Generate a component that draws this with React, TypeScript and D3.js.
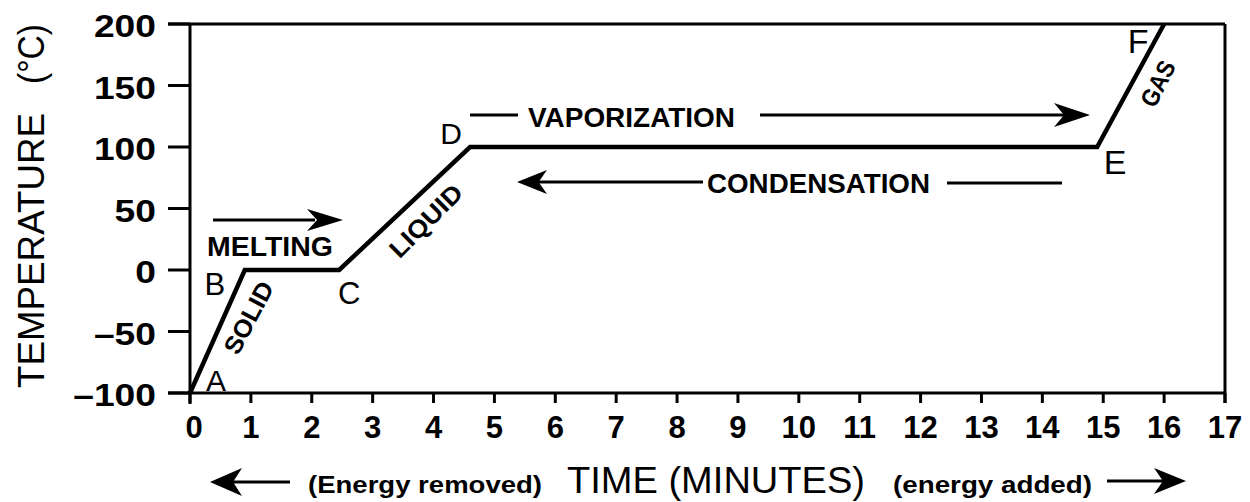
import React from "react";
import * as d3 from "d3";

// ---- data ----
const timeMin = [0, 0.9, 2.45, 4.6, 14.9, 16];
const tempC = [-100, 0, 0, 100, 100, 200];
const pointLabels = ["A", "B", "C", "D", "E", "F"];
const xTicks = [0, 1, 2, 3, 4, 5, 6, 7, 8, 9, 10, 11, 12, 13, 14, 15, 16, 17];
const yTicks = [-100, -50, 0, 50, 100, 150, 200];
const phaseNames = ["SOLID", "LIQUID", "GAS"];
const processNames = ["MELTING", "VAPORIZATION", "CONDENSATION"];
const xTitle = "TIME (MINUTES)";
const yTitle = ["TEMPERATURE", "(°C)"];
const energyNotes = ["(Energy removed)", "(energy added)"];

const W = 1250;
const H = 502;
const FONT = "'Liberation Sans', Arial, Helvetica, sans-serif";

function ArrowHead({ tx, ty, dir, len = 34, half = 11 }: { tx: number; ty: number; dir: 1 | -1; len?: number; half?: number }) {
  const b = tx - dir * len;
  const m = tx - dir * len * 0.72;
  const d = `M${tx},${ty} L${b},${ty - half} L${m},${ty} L${b},${ty + half} Z`;
  return <path d={d} fill="#000" />;
}

export default function App() {
  const x = d3.scaleLinear().domain([0, 17]).range([190, 1225]);
  const y = d3.scaleLinear().domain([-100, 200]).range([393, 24]);
  const pts = timeMin.map((t, i) => [x(t), y(tempC[i])] as [number, number]);
  const line = d3.line<[number, number]>()(pts) as string;

  const x0 = x(0), x17 = x(17), yTop = y(200), yBot = y(-100);

  // label offsets from their points: dx, dy, font size
  const letterOff: [number, number, number][] = [
    [26, -2, 30], [-30, 25, 31], [10, 34, 31], [-19, -3, 30], [18, 27, 34], [-26, 29, 34],
  ];

  const mid = (i: number) => [(pts[i][0] + pts[i + 1][0]) / 2, (pts[i][1] + pts[i + 1][1]) / 2];
  const sMid = mid(0), lMid = mid(2), gMid = mid(4);
  const phaseLabels = [
    { t: phaseNames[0], cx: sMid[0] + 31, cy: sMid[1] - 14, a: -62, len: 78 },
    { t: phaseNames[1], cx: lMid[0] + 21, cy: lMid[1] + 12, a: -45, len: 92 },
    { t: phaseNames[2], cx: gMid[0] + 27, cy: gMid[1] - 2, a: -63, len: 48 },
  ];

  const yZero = y(0), yHundred = y(100);
  const meltY = yZero - 50;
  const vapY = yHundred - 32;
  const condY = yHundred + 35;
  const botY = 482;
  const botBase = 493;

  return (
    <svg width={W} height={H} style={{ position: "absolute", left: 0, top: 0, background: "#fff" }} fontFamily={FONT}>
      <rect x={0} y={0} width={W} height={H} fill="#fff" />
      {/* frame */}
      <g stroke="#000" strokeWidth={3} fill="none">
        <line x1={168} y1={yTop} x2={x17} y2={yTop} />
        <line x1={x17} y1={yTop} x2={x17} y2={yBot + 10} />
        <line x1={168} y1={yBot} x2={x17} y2={yBot} />
        <line x1={x0} y1={yTop} x2={x0} y2={yBot + 11} />
      </g>
      {/* y ticks */}
      {yTicks.map((v) => (
        <g key={"y" + v}>
          <line x1={168} x2={x0} y1={y(v)} y2={y(v)} stroke="#000" strokeWidth={3} />
          <text
            x={0}
            y={0}
            transform={`translate(156,${y(v) + 13}) scale(1.2,1)`}
            textAnchor="end"
            fontSize={31}
            fontWeight="bold"
          >
            {v < 0 ? "\u2013" + Math.abs(v) : String(v)}
          </text>
        </g>
      ))}
      {/* x ticks */}
      {xTicks.map((v) => (
        <g key={"x" + v}>
          <line x1={x(v)} x2={x(v)} y1={yBot} y2={yBot + 10} stroke="#000" strokeWidth={3} />
          <text x={x(v) + (v === 0 ? 4 : 0)} y={438} textAnchor="middle" fontSize={31} fontWeight="bold">
            {v}
          </text>
        </g>
      ))}

      {/* heating curve */}
      <path d={line} fill="none" stroke="#000" strokeWidth={4.5} strokeLinejoin="miter" />

      {/* point letters */}
      {pointLabels.map((l, i) => (
        <text key={l} x={pts[i][0] + letterOff[i][0]} y={pts[i][1] + letterOff[i][1]} textAnchor="middle" fontSize={letterOff[i][2]}>
          {l}
        </text>
      ))}

      {/* phase labels */}
      {phaseLabels.map((p) => (
        <text
          key={p.t}
          transform={`translate(${p.cx},${p.cy}) rotate(${p.a})`}
          textAnchor="middle"
          dominantBaseline="central"
          fontSize={25}
          fontWeight="bold"
          textLength={p.len}
          lengthAdjust="spacingAndGlyphs"
        >
          {p.t}
        </text>
      ))}

      {/* melting */}
      <line x1={x0 + 23} x2={x0 + 125} y1={meltY} y2={meltY} stroke="#000" strokeWidth={3} />
      <ArrowHead tx={x0 + 153} ty={meltY} dir={1} len={36} half={11} />
      <text x={x0 + 17} y={yZero - 14} fontSize={28} fontWeight="bold" textLength={126} lengthAdjust="spacingAndGlyphs">
        {processNames[0]}
      </text>

      {/* vaporization */}
      <line x1={x(4.6)} x2={518} y1={vapY} y2={vapY} stroke="#000" strokeWidth={3} />
      <text x={528} y={127} fontSize={27} fontWeight="bold" textLength={207} lengthAdjust="spacingAndGlyphs">
        {processNames[1]}
      </text>
      <line x1={760} x2={1065} y1={vapY} y2={vapY} stroke="#000" strokeWidth={3} />
      <ArrowHead tx={1090} ty={vapY} dir={1} len={36} half={12} />

      {/* condensation */}
      <ArrowHead tx={517} ty={condY} dir={-1} len={30} half={12} />
      <line x1={535} x2={703} y1={condY} y2={condY} stroke="#000" strokeWidth={3} />
      <text x={707} y={193} fontSize={27} fontWeight="bold" textLength={223} lengthAdjust="spacingAndGlyphs">
        {processNames[2]}
      </text>
      <line x1={947} x2={1062} y1={condY + 1} y2={condY + 1} stroke="#000" strokeWidth={3} />

      {/* y title */}
      <text transform={`translate(44,388) rotate(-90)`} fontSize={37} textLength={275} lengthAdjust="spacingAndGlyphs">
        {yTitle[0]}
      </text>
      <text transform={`translate(44,84) rotate(-90)`} fontSize={37} textLength={60} lengthAdjust="spacingAndGlyphs">
        {yTitle[1]}
      </text>

      {/* bottom annotations */}
      <ArrowHead tx={210} ty={botY} dir={-1} len={32} half={14} />
      <line x1={228} x2={290} y1={botY} y2={botY} stroke="#000" strokeWidth={3} />
      <text x={308} y={botBase} fontSize={24} fontWeight="bold" textLength={234} lengthAdjust="spacingAndGlyphs">
        {energyNotes[0]}
      </text>
      <text x={567} y={botBase} fontSize={36} textLength={298} lengthAdjust="spacingAndGlyphs">
        {xTitle}
      </text>
      <text x={893} y={botBase} fontSize={24} fontWeight="bold" textLength={199} lengthAdjust="spacingAndGlyphs">
        {energyNotes[1]}
      </text>
      <line x1={1107} x2={1165} y1={botY - 1} y2={botY - 1} stroke="#000" strokeWidth={3} />
      <ArrowHead tx={1186} ty={botY - 1} dir={1} len={32} half={13} />
    </svg>
  );
}
